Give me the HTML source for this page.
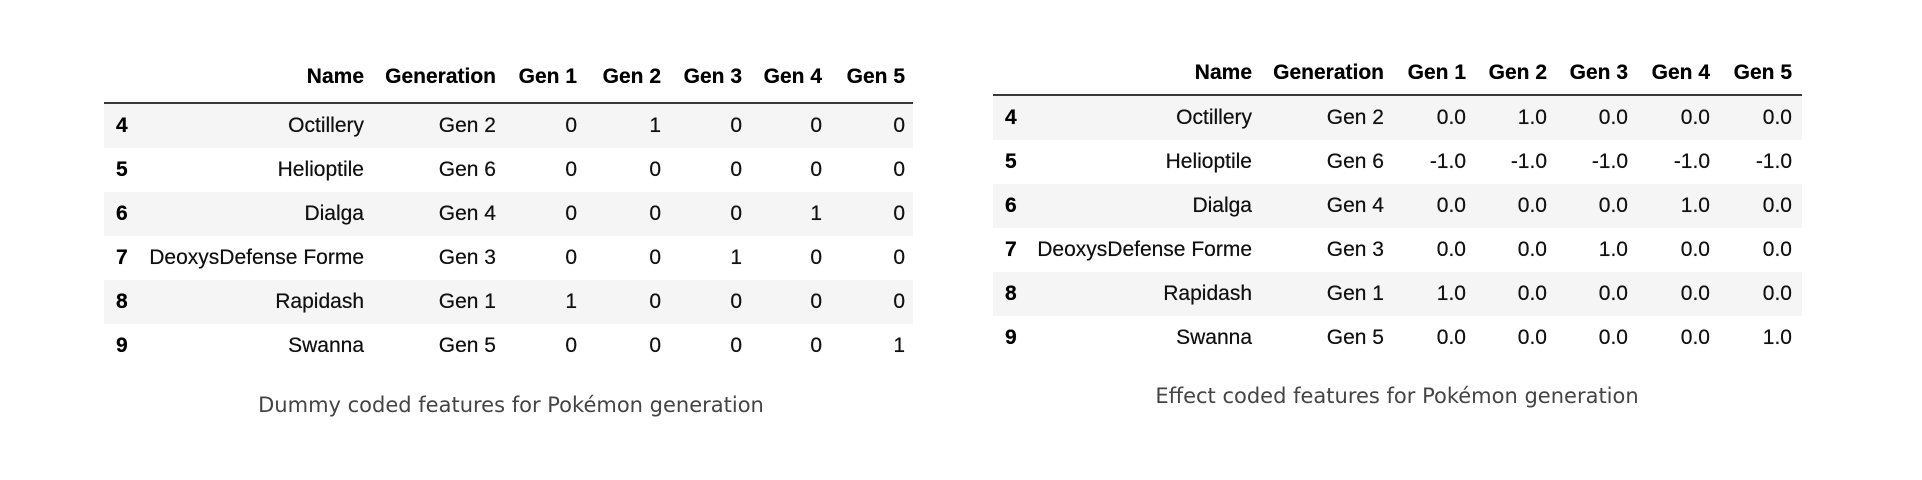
<!DOCTYPE html>
<html><head><meta charset="utf-8">
<style>
body{margin:0;width:1922px;height:480px;background:#fff;position:relative;overflow:hidden;font-family:"Liberation Sans",Arial,sans-serif;color:#000}
.t{position:absolute;left:0;top:0;width:1922px;height:480px}
.c{position:absolute;width:300px;white-space:nowrap;font-size:21px;line-height:44px;text-align:right;color:#111;text-shadow:0 0 0.4px #111}
.h{font-weight:bold;color:#000}
.row{position:absolute;height:44px}
.line{position:absolute;height:2px;background:#3a3a3a}
.cap{position:absolute;font-family:"DejaVu Sans","Liberation Sans",sans-serif;font-size:21px;color:#444;white-space:nowrap;transform:translateX(-50%)}
</style></head>
<body>
<div id="root"></div>
<div class="cap" style="left:511px;top:393px">Dummy coded features for Pokémon generation</div>
<div class="cap" style="left:1397px;top:384px">Effect coded features for Pokémon generation</div>
<script>
const headers=["Name","Generation","Gen 1","Gen 2","Gen 3","Gen 4","Gen 5"];
const idx=["4","5","6","7","8","9"];
const names=["Octillery","Helioptile","Dialga","DeoxysDefense Forme","Rapidash","Swanna"];
const gens=["Gen 2","Gen 6","Gen 4","Gen 3","Gen 1","Gen 5"];
const dummy=[[0,1,0,0,0],[0,0,0,0,0],[0,0,0,1,0],[0,0,1,0,0],[1,0,0,0,0],[0,0,0,0,1]];
const effect=[[0,1,0,0,0],[-1,-1,-1,-1,-1],[0,0,0,1,0],[0,0,1,0,0],[1,0,0,0,0],[0,0,0,0,1]];
const root=document.getElementById('root');
function table(name,left,right,headY,lineY,idxX,cols,vals,fmt){
  const t=document.createElement('div');t.className='t';
  
  
  root.appendChild(t);
  headers.forEach((h,i)=>{const d=document.createElement('div');d.className='c h';
    
    
    d.textContent=h;d.style.left=(cols[i]-300)+'px';d.style.top=(headY-22)+'px';t.appendChild(d);});
  const ln=document.createElement('div');ln.className='line';
  
  
  ln.style.left=left+'px';ln.style.width=(right-left)+'px';ln.style.top=lineY+'px';t.appendChild(ln);
  idx.forEach((ix,r)=>{
    const y=lineY+2+r*44;
    const rw=document.createElement('div');rw.className='row';
    
    
    rw.style.left=left+'px';rw.style.width=(right-left)+'px';rw.style.top=y+'px';
    rw.style.background=r%2==0?'#f5f5f5':'#fff';t.appendChild(rw);
    const cells=[names[r],gens[r]].concat(vals[r].map(fmt));
    const id=document.createElement('div');id.className='c h';
    
    
    id.textContent=ix;id.style.left=idxX+'px';id.style.width='30px';id.style.top=y+'px';id.style.textAlign='left';t.appendChild(id);
    cells.forEach((v,i)=>{const d=document.createElement('div');d.className='c';
      
      
      d.textContent=v;d.style.left=(cols[i]-300)+'px';d.style.top=y+'px';t.appendChild(d);});
  });
}
table('dummy-table',104,913,77,102,116,[364,496,577,661,742,822,905],dummy,v=>String(v));
table('effect-table',993,1802,73,94,1005,[1252,1384,1466,1547,1628,1710,1792],effect,v=>v.toFixed(1));
</script>
</body></html>
